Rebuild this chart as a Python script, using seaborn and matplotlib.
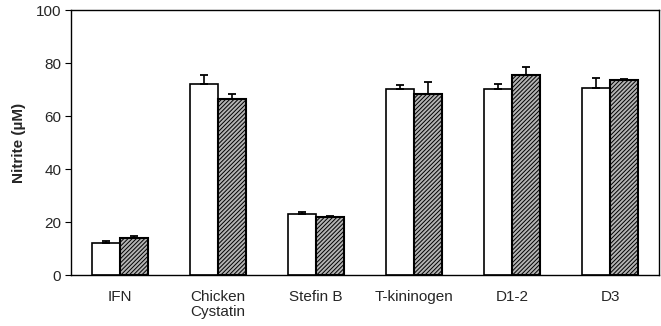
import matplotlib
matplotlib.use("Agg")
import matplotlib.pyplot as plt
import seaborn as sns
import pandas as pd
import numpy as np

categories = ["IFN", "Chicken\nCystatin", "Stefin B", "T-kininogen", "D1-2", "D3"]
open_values = [12.2, 72.0, 22.9, 70.1, 70.1, 70.6]
open_errors = [0.6, 3.4, 0.9, 1.5, 1.9, 3.6]
hatched_values = [13.8, 66.5, 21.8, 68.2, 75.4, 73.7]
hatched_errors = [1.0, 1.8, 0.6, 4.7, 3.0, 0.3]
series = ["open", "hatched"]
y_ticks = [0, 20, 40, 60, 80, 100]

sns.set_theme(style="white")
plt.rcParams["font.family"] = ["Liberation Sans", "DejaVu Sans"]
plt.rcParams["hatch.linewidth"] = 0.7
plt.rcParams["hatch.color"] = "#2a2a2a"

df = pd.DataFrame({
    "category": categories * 2,
    "series": [series[0]] * len(categories) + [series[1]] * len(categories),
    "value": open_values + hatched_values,
    "err": open_errors + hatched_errors,
})

fig = plt.figure(figsize=(6.61, 3.26), dpi=100)
ax = fig.add_axes([0.1074, 0.1564, 0.8896, 0.8129])

sns.barplot(data=df, x="category", y="value", hue="series", order=categories,
            hue_order=series, palette=["white", "#9a9a9a"], width=0.57, gap=0,
            errorbar=None, edgecolor="black", linewidth=1.2, legend=False, ax=ax)

# Style the second series with dense diagonal hatching
n = len(categories)
bars = ax.patches[: 2 * n]
for i, bar in enumerate(bars):
    if i >= n:
        bar.set_hatch("////////")
        bar.set_facecolor("#b4b4b4")
        bar.set_linewidth(1.5)

# Upper-only error bars at each bar's centre
errs = open_errors + hatched_errors
vals = open_values + hatched_values
for bar, v, e in zip(bars, vals, errs):
    xc = bar.get_x() + bar.get_width() / 2
    ax.errorbar(xc, v, yerr=[[0], [e]], fmt="none", ecolor="black",
                elinewidth=1.2, capsize=3, capthick=1.3, zorder=3)

ax.set_xlim(-0.5, n - 0.5)
ax.set_ylim(0, 100)
ax.set_yticks(y_ticks)
ax.set_yticklabels([str(t) for t in y_ticks], fontsize=11)
ax.set_ylabel("Nitrite (µM)", fontsize=11, fontweight="bold", labelpad=7)
ax.set_xlabel("")

# Category labels at group centres, tick marks at group boundaries
ax.set_xticks(np.arange(n))
ax.set_xticklabels(categories, fontsize=11, va="top", linespacing=1.1)
ax.tick_params(axis="x", length=0, pad=11)
ax.set_xticks(np.arange(n - 1) + 0.5, minor=True)
ax.tick_params(axis="x", which="minor", direction="inout", length=8, width=0.8, color="black")
ax.tick_params(axis="y", direction="out", length=4, width=0.8, color="black", left=True, pad=3)

for side in ["left", "right", "top", "bottom"]:
    ax.spines[side].set_visible(True)
    ax.spines[side].set_color("black")
    ax.spines[side].set_linewidth(1.0)

fig.savefig("out.png", dpi=100, facecolor="white")
